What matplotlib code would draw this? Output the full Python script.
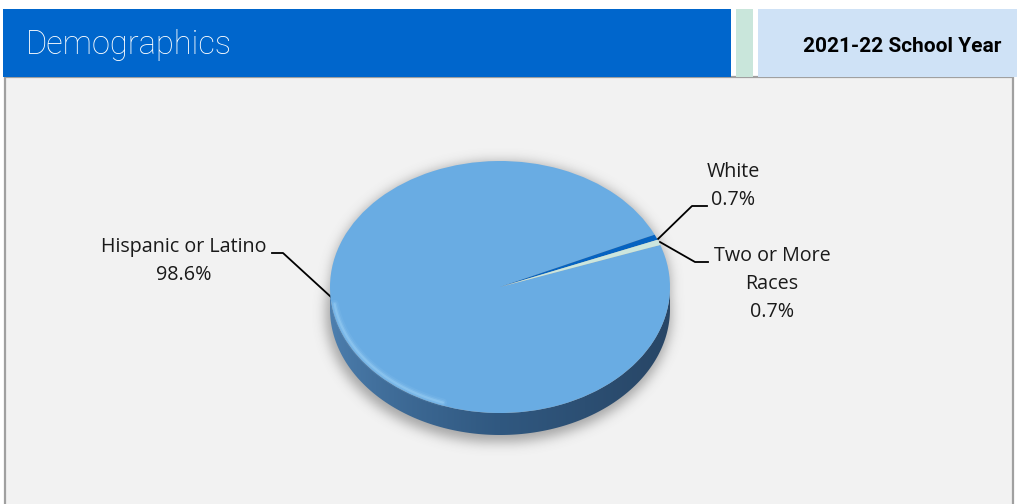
import numpy as np
import matplotlib
matplotlib.use("Agg")
import matplotlib.pyplot as plt
from matplotlib.patches import Rectangle, Polygon

# ---- data ----
categories = ["Hispanic or Latino", "White", "Two or More Races"]
label_text = ["Hispanic or Latino", "White", "Two or More\nRaces"]
values = [98.6, 0.7, 0.7]
colors = ["#69ACE3", "#0563C1", "#CBE6DE"]
title = "Demographics"
year_label = "2021-22 School Year"

plt.rcParams['font.family'] = ['Open Sans', 'DejaVu Sans']

W, H = 1017, 504
fig = plt.figure(figsize=(W / 100, H / 100), dpi=100)
fig.patch.set_facecolor("white")

bg = fig.add_axes([0, 0, 1, 1])
bg.set_xlim(0, W)
bg.set_ylim(H, 0)
bg.axis("off")

# panel and header
bg.add_patch(Rectangle((5, 77), 1008, 432, facecolor="#F2F2F2", edgecolor="#A0A0A0", lw=1.6, zorder=0))
bg.add_patch(Rectangle((3, 9), 728, 68, facecolor="#0066CC", edgecolor="none", zorder=1))
bg.add_patch(Rectangle((736, 9), 17, 68, facecolor="#C9E6DB", edgecolor="none", zorder=1))
bg.add_patch(Rectangle((758, 9), 262, 68, facecolor="#CFE2F6", edgecolor="none", zorder=1))
bg.text(26, 45, title, color="white", fontsize=23.5, fontweight="light", va="center", ha="left",
        family=["Roboto", "DejaVu Sans"], zorder=2)
bg.text(902, 46, year_label, color="black", fontsize=15, fontweight="bold", va="center", ha="center",
        family=["Roboto", "DejaVu Sans"], zorder=2)

# pie geometry (pixels)
cx_px, cy_px = 500, 287
rx, ry = 170, 126
depth = 22
s = ry / rx

# shadow (blurred mask)
yy, xx = np.mgrid[0:H, 0:W]
mask = (((xx - cx_px + 2) / (rx + 3)) ** 2 + ((yy - cy_px - depth - 4) / (ry + 3)) ** 2 <= 1).astype(float)
mask = np.maximum(mask, (((xx - cx_px) / rx) ** 2 + ((yy - cy_px) / ry) ** 2 <= 1).astype(float))
sig = 6.0
k = np.exp(-0.5 * (np.arange(-18, 19) / sig) ** 2)
k /= k.sum()
bl = np.apply_along_axis(lambda r: np.convolve(r, k, mode="same"), 1, mask)
bl = np.apply_along_axis(lambda c: np.convolve(c, k, mode="same"), 0, bl)
shadow = np.zeros((H, W, 4))
shadow[..., :3] = 0.35
shadow[..., 3] = bl * 0.5
bg.imshow(shadow, extent=(0, W, H, 0), zorder=3, interpolation="bilinear")

# pie axes: y up, scaled so circles render as ellipses
pa = fig.add_axes([0, 0, 1, 1])
pa.patch.set_alpha(0)
cx = cx_px
cy = (H - cy_px) / s
R = rx
d = depth / s

# side wall
t = np.linspace(np.pi, 2 * np.pi, 200)
top = np.column_stack([cx + R * np.cos(t), cy + R * np.sin(t)])
bot = np.column_stack([cx + R * np.cos(t[::-1]), cy - d + R * np.sin(t[::-1])])
side_poly = Polygon(np.vstack([top, bot]), closed=True, facecolor="none", edgecolor="none")
pa.add_patch(side_poly)
gx = np.linspace(0, 1, 256)
c_left = np.array([78, 128, 176]) / 255
c_mid = np.array([48, 88, 128]) / 255
c_right = np.array([40, 70, 102]) / 255
grad = np.zeros((2, 256, 3))
for i, g in enumerate(gx):
    if g < 0.5:
        c = c_left + (c_mid - c_left) * (g / 0.5) ** 0.7
    else:
        c = c_mid + (c_right - c_mid) * ((g - 0.5) / 0.5)
    grad[:, i, :] = c
im = pa.imshow(grad, extent=(cx - R, cx + R, cy - d - R, cy), aspect="auto", zorder=1, interpolation="bilinear")
im.set_clip_path(side_poly)

wedges, _ = pa.pie(values, colors=colors, center=(cx, cy), radius=R, startangle=19.5,
                   counterclock=False, wedgeprops=dict(linewidth=0, antialiased=True))
for w in wedges:
    w.set_zorder(2)

# soft rim highlight on lower-left of top face
for lw, al in [(6, 0.08), (3.5, 0.14), (1.6, 0.25)]:
    ta = np.linspace(np.radians(188), np.radians(250), 80)
    pa.plot(cx + (R - 3) * np.cos(ta), cy + (R - 3 / s) * np.sin(ta), color="#B8E4FF", lw=lw, alpha=al,
            zorder=3, solid_capstyle="round")

pa.set_aspect("auto")
pa.set_xlim(0, W)
pa.set_ylim(0, H / s)
pa.axis("off")

# labels and leader lines (pixel coords)
lab_fs = 14.2
lab_col = "#1A1A1A"
lsp = 1.55
lbl = [f"{label_text[i]}\n{values[i]:.1f}%" for i in range(3)]
bg.text(184, 261, lbl[0], ha="center", va="center", fontsize=lab_fs, color=lab_col, linespacing=lsp, zorder=5)
bg.text(733, 186, lbl[1], ha="center", va="center", fontsize=lab_fs, color=lab_col, linespacing=lsp, zorder=5)
bg.text(772, 284, lbl[2], ha="center", va="center", fontsize=lab_fs, color=lab_col, linespacing=lsp, zorder=5)

bg.plot([272, 283, 331], [253, 253, 297], color="black", lw=1.3, zorder=5)
bg.plot([658, 692, 707], [239, 206, 206], color="black", lw=1.3, zorder=5)
bg.plot([660, 695, 708], [242, 262, 262], color="black", lw=1.3, zorder=5)

fig.savefig("out.png", dpi=100)
